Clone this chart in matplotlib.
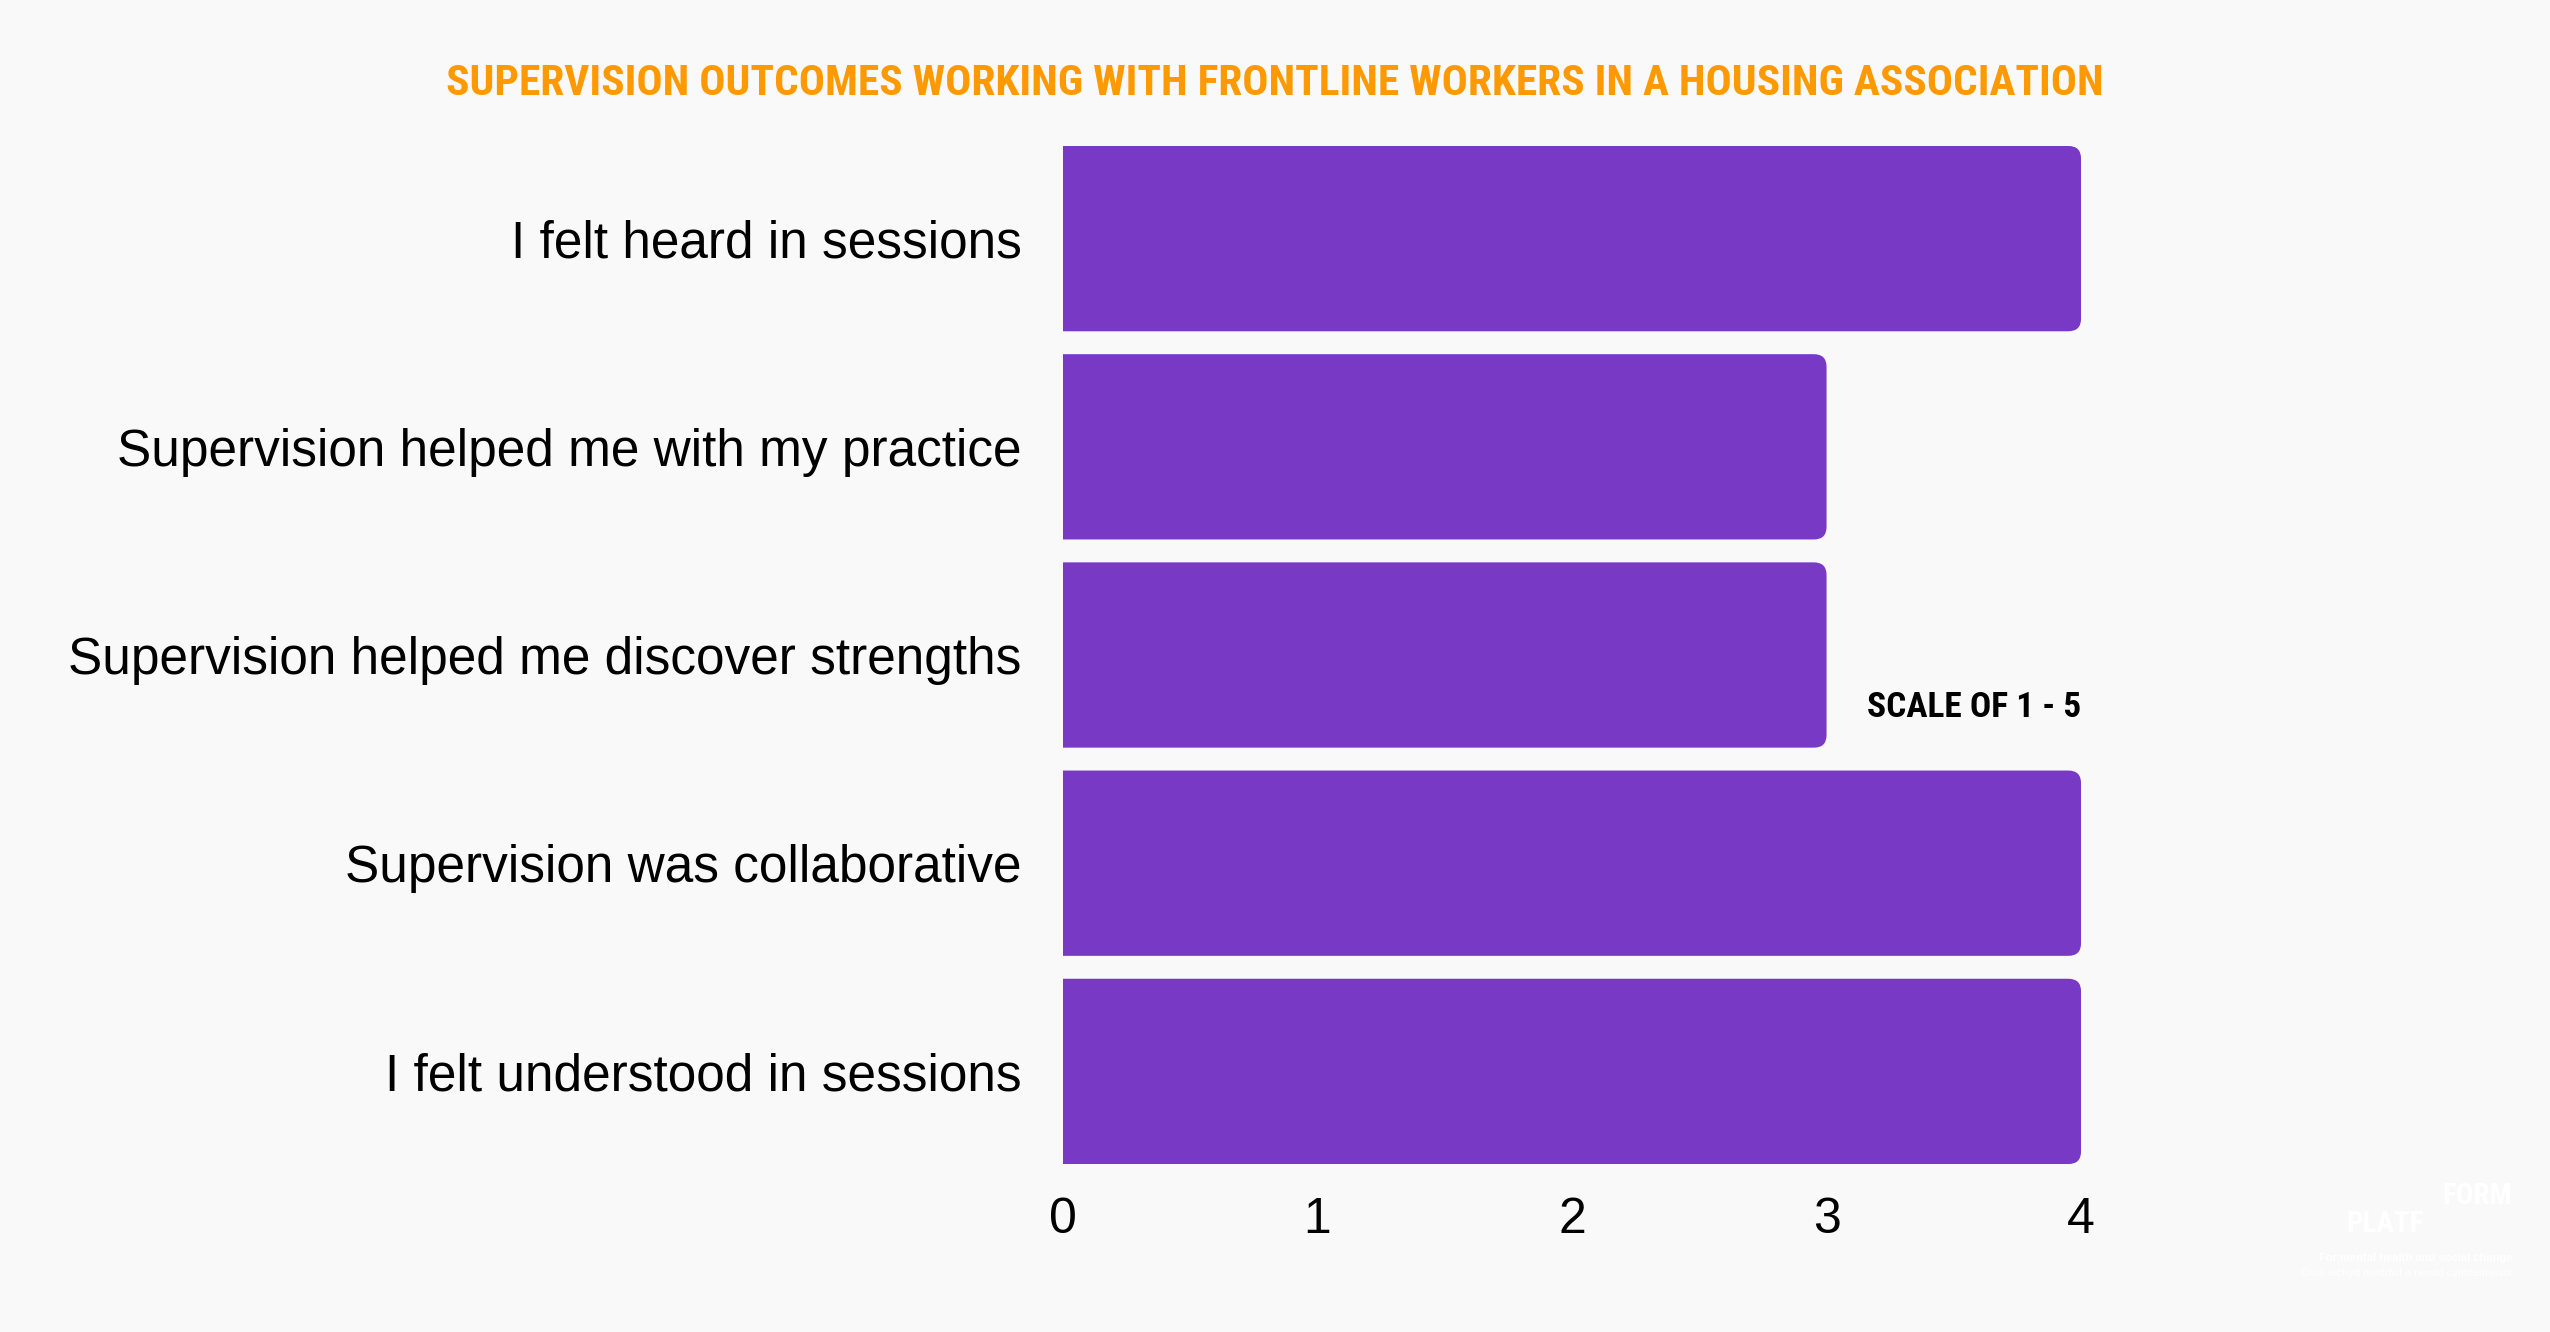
import matplotlib
matplotlib.use("Agg")
import matplotlib.pyplot as plt
from matplotlib.patches import FancyBboxPatch
from matplotlib import font_manager

# ---------------------------------------------------------------- data
TITLE = "SUPERVISION OUTCOMES WORKING WITH FRONTLINE WORKERS IN A HOUSING ASSOCIATION"
CATEGORIES = [
    "I felt heard in sessions",
    "Supervision helped me with my practice",
    "Supervision helped me discover strengths",
    "Supervision was collaborative",
    "I felt understood in sessions",
]
SCORES = [4, 3, 3, 4, 4]
X_TICKS = [0, 1, 2, 3, 4]
NOTE = "SCALE OF 1 - 5"

BG = "#f9f9f9"
PURPLE = "#783ac5"
ORANGE = "#ff9900"
BAR_H = 0.89

# pick a narrow face for the headline text if one is installed
names = {f.name for f in font_manager.fontManager.ttflist}
NARROW = next((n for n in ["Roboto Condensed", "Liberation Sans Narrow",
                           "Open Sans Condensed", "DejaVu Sans"] if n in names))
narrow = NARROW != "DejaVu Sans"

plt.rcParams["font.family"] = ["Liberation Sans", "DejaVu Sans"]

fig = plt.figure(figsize=(25.5, 13.32), dpi=100, facecolor=BG)
ax = fig.add_axes([0.4169, 0.1261, 0.3992, 0.7643], facecolor=BG)

ypos = list(range(len(CATEGORIES)))
# rounded boxes that start left of x=0; the axes clip hides the left corners
r = 0.05
asp = 1.22
for y, s in zip(ypos, SCORES):
    ax.add_patch(FancyBboxPatch((-0.2, y - BAR_H / 2 + r * asp), s + 0.2 - r,
                                BAR_H - 2 * r * asp,
                                boxstyle=f"round,pad={r}", mutation_aspect=asp,
                                facecolor=PURPLE, linewidth=0))

ax.set_xlim(0, 4)
ax.set_ylim(len(CATEGORIES) - 1 + BAR_H / 2, -BAR_H / 2)
ax.set_yticks(ypos)
ax.set_yticklabels(CATEGORIES, fontsize=37)
ax.set_xticks(X_TICKS)
ax.set_xticklabels([str(t) for t in X_TICKS], fontsize=36)
ax.tick_params(axis="both", length=0)
ax.tick_params(axis="y", pad=30)
ax.tick_params(axis="x", pad=24)
for sp in ax.spines.values():
    sp.set_visible(False)

ax.text(4, 2.25, NOTE, ha="right", va="center",
        fontsize=25.5 if narrow else 24, fontweight="bold",
        family=[NARROW, "DejaVu Sans"], color="black")

fig.text(0.5, 0.937, TITLE, ha="center", va="center",
         fontsize=31.2 if narrow else 25.5, fontweight="bold",
         family=[NARROW, "DejaVu Sans"], color=ORANGE)

# faint white logo, bottom right
fig.text(0.9505, 0.081, "PLATF", ha="right", va="center", fontsize=21,
         fontweight="bold", family=[NARROW, "DejaVu Sans"], color="white")
fig.text(0.9851, 0.102, "FORM", ha="right", va="center", fontsize=21,
         fontweight="bold", family=[NARROW, "DejaVu Sans"], color="white")
fig.text(0.9851, 0.0556, "For mental health and social change", ha="right",
         va="center", fontsize=8, fontweight="bold", color="white")
fig.text(0.9851, 0.0443, "Dros iechyd meddwl a newid cymdeithasol", ha="right",
         va="center", fontsize=8, color="white")

fig.savefig("out.png", dpi=100, facecolor=BG)
